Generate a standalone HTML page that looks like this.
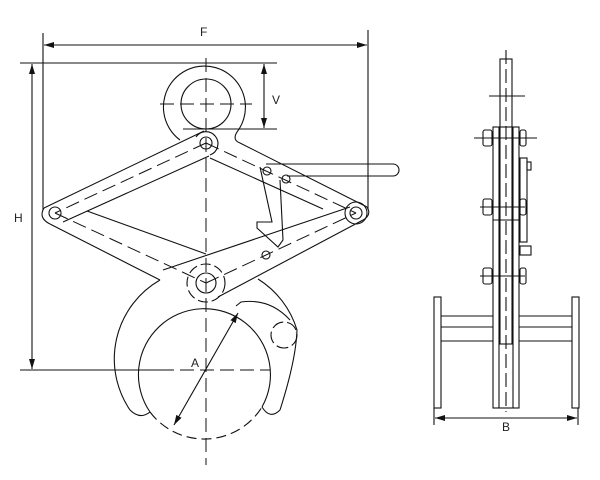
<!DOCTYPE html>
<html><head><meta charset="utf-8"><style>
html,body{margin:0;padding:0;background:#fff;width:600px;height:480px;overflow:hidden}
text{font-family:"Liberation Sans",sans-serif;font-size:12px;fill:#222}
</style></head><body>
<svg width="600" height="480" viewBox="0 0 600 480" xmlns="http://www.w3.org/2000/svg">
<defs>
<marker id="ar" viewBox="0 0 10 6" refX="10" refY="3" markerWidth="10" markerHeight="6" orient="auto-start-reverse" markerUnits="userSpaceOnUse"><path d="M0,0L10,3L0,6z" fill="#111"/></marker>
</defs>
<g fill="none" stroke="#111" stroke-width="1.1">
<line x1="43" y1="33" x2="43" y2="210"/>
<line x1="368" y1="30" x2="368" y2="210"/>
<line x1="44" y1="45" x2="367" y2="45" marker-start="url(#ar)" marker-end="url(#ar)"/>
<line x1="20" y1="63" x2="277" y2="63"/>
<line x1="32" y1="64" x2="32" y2="369" marker-start="url(#ar)" marker-end="url(#ar)"/>
<line x1="20" y1="370" x2="160" y2="370"/>
<line x1="183" y1="129" x2="277" y2="129"/>
<line x1="264" y1="64" x2="264" y2="128" marker-start="url(#ar)" marker-end="url(#ar)"/>
<path d="M180,140 A41,41 0 1 1 237,132 Q232,140 240,143 L367,207"/>
<circle cx="206" cy="104" r="25"/>
<line x1="44" y1="208" x2="204" y2="131"/>
<line x1="63" y1="222" x2="209" y2="156"/>
<path d="M44,208 Q38,218 50,224"/>
<line x1="210" y1="158" x2="323" y2="209"/>
<line x1="50" y1="224" x2="160" y2="280"/>
<line x1="87" y1="211" x2="206" y2="254"/>
<line x1="163" y1="270" x2="350" y2="207"/>
<line x1="218" y1="297" x2="363" y2="220"/>
<path d="M367,207 Q372,215 363,220"/>
<circle cx="206" cy="143" r="6"/><path d="M196,137 A12,12 0 1 1 210,155"/>
<circle cx="55" cy="213" r="6"/>
<circle cx="356" cy="213" r="6"/><circle cx="356" cy="213" r="11"/>
<circle cx="206" cy="283" r="10"/>
<circle cx="206" cy="283" r="19" stroke-dasharray="10,4"/>
<path d="M266,164 L393,164 A6,6 0 0 1 393,176 L287,176"/>
<path d="M260,167 L272,222 L257,222 L257,228 L278,247 L283,240 L280,180"/>
<circle cx="267" cy="171" r="4"/><circle cx="286" cy="179" r="4"/><circle cx="266" cy="255" r="4"/>
<path d="M160,280 A91,91 0 0 0 130,410 Q140,420 150,412"/>
<path d="M150,412 A66,66 0 1 1 262,407"/>
<path d="M262,407 Q270,420 280,410"/>
<path d="M258,279 A91,91 0 0 1 297,330 Q296,360 280,410"/>
<path d="M236,306 L241,302 Q270,298 290,320"/>
<circle cx="284" cy="335" r="13" stroke-dasharray="12,4"/>
<path d="M150,412 A68,68 0 0 0 262,407" stroke-dasharray="10,5"/>
<line x1="174" y1="425" x2="238" y2="313" marker-start="url(#ar)" marker-end="url(#ar)"/>
</g>
<g fill="none" stroke="#111" stroke-width="1" stroke-dasharray="14,6">
<line x1="206" y1="58" x2="206" y2="465"/>
<line x1="160" y1="104" x2="252" y2="104"/>
<line x1="160" y1="370" x2="270" y2="370"/>
<line x1="206" y1="143" x2="55" y2="213"/>
<line x1="206" y1="143" x2="356" y2="213"/>
<line x1="55" y1="213" x2="206" y2="283"/>
<line x1="206" y1="283" x2="356" y2="213"/>
</g>
<text x="200" y="36">F</text>
<text x="14" y="222">H</text>
<text x="272" y="104">V</text>
<text x="191" y="367">A</text>
<g fill="none" stroke="#111" stroke-width="1.1">
<rect x="500" y="59" width="12" height="285"/>
<rect x="493" y="127" width="26" height="281"/>
<line x1="499" y1="127" x2="499" y2="408"/>
<line x1="513" y1="127" x2="513" y2="408"/>
<rect x="434" y="297" width="7" height="111"/>
<rect x="572" y="297" width="7" height="111"/>
<line x1="441" y1="316" x2="493" y2="316"/><line x1="441" y1="327" x2="493" y2="327"/><line x1="441" y1="341" x2="493" y2="341"/>
<line x1="519" y1="316" x2="572" y2="316"/><line x1="519" y1="327" x2="572" y2="327"/><line x1="519" y1="341" x2="572" y2="341"/>
<line x1="493" y1="220" x2="519" y2="220"/>
<rect x="483" y="130" width="9" height="16" rx="2"/><rect x="520" y="130" width="6" height="16" rx="2"/>
<rect x="483" y="199" width="9" height="16" rx="2"/><rect x="520" y="199" width="6" height="16" rx="2"/>
<rect x="483" y="268" width="9" height="16" rx="2"/><rect x="520" y="268" width="6" height="16" rx="2"/>
<rect x="520" y="158" width="7" height="84"/>
<rect x="527" y="162" width="4" height="8"/>
<rect x="520" y="246" width="11" height="9"/>
<line x1="489" y1="96" x2="525" y2="96"/>
<line x1="474" y1="138" x2="537" y2="138"/>
<line x1="480" y1="207" x2="525" y2="207"/>
<line x1="480" y1="276" x2="525" y2="276"/>
<line x1="434" y1="408" x2="434" y2="425"/><line x1="578" y1="408" x2="578" y2="425"/>
<line x1="435" y1="418" x2="577" y2="418" marker-start="url(#ar)" marker-end="url(#ar)"/>
<line x1="506" y1="50" x2="506" y2="412" stroke-dasharray="14,5"/>
</g>
<text x="502" y="431">B</text>
</svg>
</body></html>
